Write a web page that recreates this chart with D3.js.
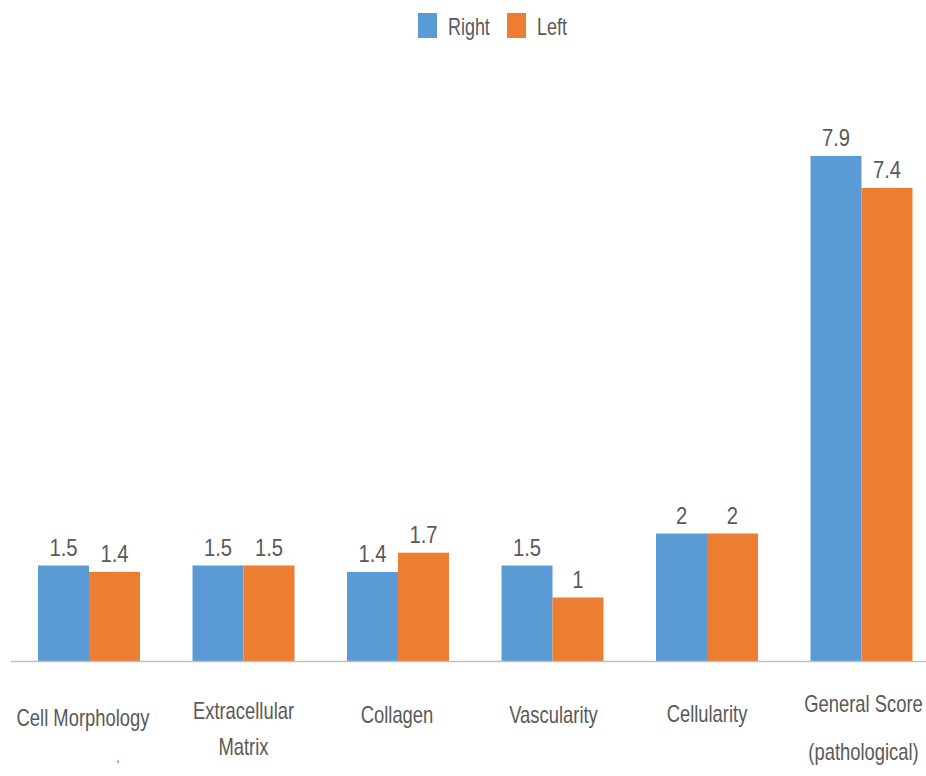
<!DOCTYPE html>
<html>
<head>
<meta charset="utf-8">
<script src="https://cdn.jsdelivr.net/npm/d3@7"></script>
<style>
  html, body { margin: 0; padding: 0; background: #fff; }
  svg text { font-family: "Liberation Sans", Arial, sans-serif; fill: #595959; }
</style>
</head>
<body>
<svg id="chart" width="926" height="776"></svg>
<script>
// Categories (each label may span several lines)
const categories = ["Cell Morphology", "Extracellular Matrix", "Collagen", "Vascularity", "Cellularity", "General Score (pathological)"];
const categoryLines = [["Cell Morphology"], ["Extracellular", "Matrix"], ["Collagen"], ["Vascularity"], ["Cellularity"], ["General Score", "(pathological)"]];
const seriesNames = ["Right", "Left"];
const rightValues = [1.5, 1.5, 1.4, 1.5, 2, 7.9];
const leftValues  = [1.4, 1.5, 1.7, 1, 2, 7.4];
const seriesColors = ["#5B9BD5", "#ED7D31"];

const svg = d3.select("#chart");
const baseY = 661.5;

const x = d3.scaleBand()
  .domain(categories)
  .range([11.75, 938.75])
  .paddingInner(0.34)
  .paddingOuter(0.17);

const xs = d3.scaleBand()
  .domain(seriesNames)
  .range([0, x.bandwidth()]);

const y = d3.scaleLinear()
  .domain([0, 8])
  .range([baseY, baseY - 8 * 64]);

const data = categories.map((c, i) => ({
  category: c,
  values: [
    { series: "Right", value: rightValues[i] },
    { series: "Left", value: leftValues[i] }
  ]
}));

const color = d3.scaleOrdinal().domain(seriesNames).range(seriesColors);

// Narrow text: a horizontally condensed label anchored at (cx, cy)
function condensedText(parent, cx, cy, str, size, sx, anchor) {
  const g = parent.append("g").attr("transform", `translate(${cx},${cy}) scale(${sx},1)`);
  g.append("text")
    .attr("x", 0).attr("y", 0)
    .attr("text-anchor", anchor || "middle")
    .style("font-size", size + "px")
    .text(str);
  return g;
}

// Bars
const groups = svg.append("g").selectAll("g")
  .data(data)
  .join("g")
  .attr("transform", d => `translate(${x(d.category)},0)`);

groups.selectAll("rect")
  .data(d => d.values)
  .join("rect")
  .attr("x", d => xs(d.series))
  .attr("y", d => y(d.value))
  .attr("width", xs.bandwidth())
  .attr("height", d => y(0) - y(d.value))
  .attr("fill", d => color(d.series));

// Value labels
groups.each(function(d) {
  const g = d3.select(this);
  d.values.forEach(v => {
    condensedText(g, xs(v.series) + xs.bandwidth() / 2, y(v.value) - 10,
      d3.format("~g")(v.value), 23, 0.88);
  });
});

// Baseline
svg.append("line")
  .attr("x1", 11).attr("x2", 926)
  .attr("y1", baseY).attr("y2", baseY)
  .attr("stroke", "#BFBFBF")
  .attr("stroke-width", 1.5);

// Category labels
const labelBase = [726, 719, 723, 723, 722, 712];
const labelGap = [0, 36, 0, 0, 0, 48];
const labelDx = [-6, 0, -1, 1, 0, 2];
categories.forEach((c, i) => {
  categoryLines[i].forEach((line, j) => {
    condensedText(svg, x(c) + x.bandwidth() / 2 + labelDx[i], labelBase[i] + j * labelGap[i], line, 23, 0.8);
  });
});
// small stray mark under the first label
svg.append("text")
  .attr("x", x(categories[0]) + x.bandwidth() / 2 + 29)
  .attr("y", 762)
  .attr("text-anchor", "middle")
  .style("font-size", "12px")
  .text(",");

// Legend
const legend = svg.append("g");
const legendItems = [
  { name: "Right", rx: 418, tx: 448 },
  { name: "Left", rx: 507, tx: 537 }
];
legendItems.forEach(it => {
  legend.append("rect")
    .attr("x", it.rx).attr("y", 13)
    .attr("width", 19).attr("height", 25)
    .attr("fill", color(it.name));
  condensedText(legend, it.tx, 34.5, it.name, 23, 0.78, "start");
});
</script>
</body>
</html>
